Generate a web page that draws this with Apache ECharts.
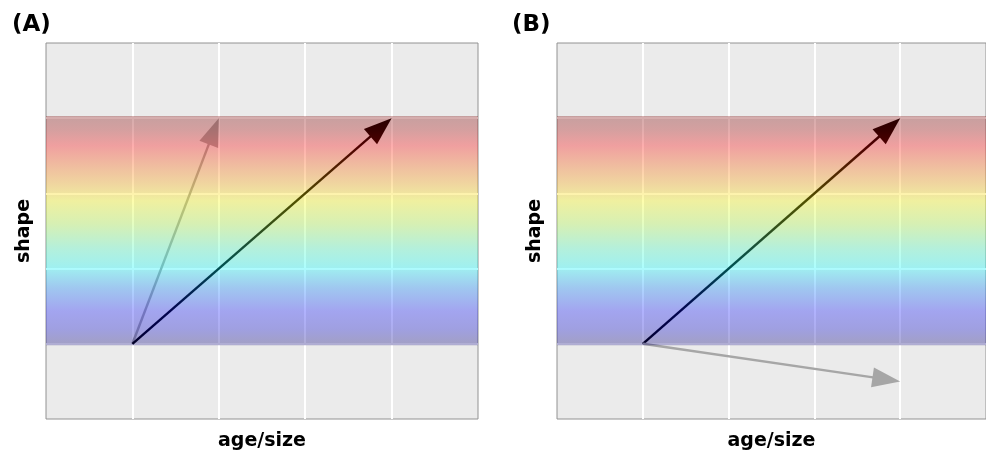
<!DOCTYPE html>
<html>
<head>
<meta charset="utf-8">
<script src="https://cdn.jsdelivr.net/npm/echarts@6/dist/echarts.min.js"></script>
<style>
  html, body { margin: 0; padding: 0; background: #fff; }
  #chart { width: 986px; height: 456px; }
</style>
</head>
<body>
<div id="chart"></div>
<script>
// axis extents, same for both panels
const xRange = [0, 5];
const yRange = [0, 5];
const tickStep = 1;

// the rainbow band, in data units
const bandX = [0, 5];
const bandY = [0.98, 4.03];

// arrows as [x0, y0, x1, y1]
const panelAGrey = [1, 1, 2, 4];
const panelABlack = [1, 1, 4, 4];
const panelBBlack = [1, 1, 4, 4];
const panelBGrey = [1, 1, 4, 0.5];

const panelTitles = ["(A)", "(B)"];
const xTitle = "age/size";
const yTitle = "shape";

const FONT = "DejaVu Sans, Liberation Sans, sans-serif";
const GREY_ARROW = "#a6a6a6";

// band is see-through, arrows sit underneath it
const bandStops = [
  { offset: 0.0, color: "rgba(120, 0, 0, 0.32)" },
  { offset: 0.06, color: "rgba(165, 0, 0, 0.32)" },
  { offset: 0.13, color: "rgba(250, 0, 0, 0.32)" },
  { offset: 0.22, color: "rgba(250, 94, 0, 0.32)" },
  { offset: 0.30, color: "rgba(250, 172, 0, 0.32)" },
  { offset: 0.37, color: "rgba(250, 250, 0, 0.32)" },
  { offset: 0.47, color: "rgba(172, 250, 62, 0.32)" },
  { offset: 0.58, color: "rgba(62, 250, 188, 0.32)" },
  { offset: 0.66, color: "rgba(0, 250, 250, 0.32)" },
  { offset: 0.75, color: "rgba(0, 125, 250, 0.32)" },
  { offset: 0.85, color: "rgba(10, 16, 250, 0.32)" },
  { offset: 0.93, color: "rgba(0, 0, 203, 0.32)" },
  { offset: 1.0, color: "rgba(9, 0, 110, 0.32)" },
];

const renderBand = (params, api) => {
  const tl = api.coord([api.value(0), api.value(3)]);
  const br = api.coord([api.value(1), api.value(2)]);
  return {
    type: "rect",
    shape: { x: tl[0], y: tl[1], width: br[0] - tl[0], height: br[1] - tl[1] },
    style: { fill: new echarts.graphic.LinearGradient(0, 0, 0, 1, bandStops) },
  };
};

const renderArrow = (params, api) => {
  const p0 = api.coord([api.value(0), api.value(1)]);
  const p1 = api.coord([api.value(2), api.value(3)]);
  const color = api.visual("color");
  const dx = p1[0] - p0[0];
  const dy = p1[1] - p0[1];
  const len = Math.hypot(dx, dy);
  const ux = dx / len;
  const uy = dy / len;
  const headLen = 28;
  const headHalf = 10;
  const base = [p1[0] - ux * headLen, p1[1] - uy * headLen];
  const left = [base[0] - uy * headHalf, base[1] + ux * headHalf];
  const right = [base[0] + uy * headHalf, base[1] - ux * headHalf];
  return {
    type: "group",
    children: [
      {
        type: "line",
        shape: { x1: p0[0], y1: p0[1], x2: base[0] + ux * 4, y2: base[1] + uy * 4 },
        style: { stroke: color, lineWidth: 2.4 },
      },
      {
        type: "polygon",
        shape: { points: [p1, left, right] },
        style: { fill: color },
      },
    ],
  };
};

const makeAxis = (idx, name, extra) => ({
  type: "value",
  gridIndex: idx,
  min: xRange[0],
  max: xRange[1],
  interval: tickStep,
  name: name,
  nameLocation: "middle",
  nameTextStyle: { fontFamily: FONT, fontWeight: "bold", fontSize: 19, color: "#000" },
  axisLine: { show: false },
  axisTick: { show: false },
  axisLabel: { show: false },
  splitLine: {
    show: true,
    showMinLine: false,
    showMaxLine: false,
    lineStyle: { color: "#ffffff", width: 2 },
  },
  ...extra,
});

const gridStyle = {
  show: true,
  backgroundColor: "#ebebeb",
  borderColor: "#929292",
  borderWidth: 1,
  top: 43,
  height: 377,
  width: 432,
};

const bandSeries = (idx) => ({
  type: "custom",
  xAxisIndex: idx,
  yAxisIndex: idx,
  z: 5,
  silent: true,
  renderItem: renderBand,
  data: [[bandX[0], bandX[1], bandY[0], bandY[1]]],
});

const arrowSeries = (idx, arrows) => ({
  type: "custom",
  xAxisIndex: idx,
  yAxisIndex: idx,
  z: 3,
  silent: true,
  renderItem: renderArrow,
  data: arrows,
});

const titleText = { fontFamily: FONT, fontWeight: "bold", fontSize: 23, color: "#000" };

const option = {
  animation: false,
  title: [
    { text: panelTitles[0], left: 12, top: 14, padding: 0, textStyle: titleText },
    { text: panelTitles[1], left: 512, top: 14, padding: 0, textStyle: titleText },
  ],
  grid: [
    { ...gridStyle, left: 46 },
    { ...gridStyle, left: 557 },
  ],
  xAxis: [
    makeAxis(0, xTitle, { nameGap: 13 }),
    makeAxis(1, xTitle, { nameGap: 13 }),
  ],
  yAxis: [
    makeAxis(0, yTitle, { min: yRange[0], max: yRange[1], nameGap: 12 }),
    makeAxis(1, yTitle, { min: yRange[0], max: yRange[1], nameGap: 12 }),
  ],
  series: [
    arrowSeries(0, [
      { value: panelAGrey, itemStyle: { color: GREY_ARROW } },
      { value: panelABlack, itemStyle: { color: "#000000" } },
    ]),
    bandSeries(0),
    arrowSeries(1, [
      { value: panelBBlack, itemStyle: { color: "#000000" } },
      { value: panelBGrey, itemStyle: { color: GREY_ARROW } },
    ]),
    bandSeries(1),
  ],
};

const chart = echarts.init(document.getElementById("chart"));
chart.setOption(option);
</script>
</body>
</html>
